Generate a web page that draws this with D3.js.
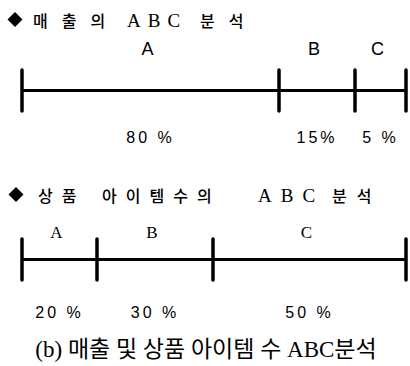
<!DOCTYPE html>
<html>
<head>
<meta charset="utf-8">
<script src="https://cdn.jsdelivr.net/npm/d3@7"></script>
<style>
  body { margin: 0; background: white; }
</style>
</head>
<body>
<script>

var width = 410,
    height = 366;

// 매출의 ABC분석
var salesGroups = ["A", "B", "C"];
var salesShare  = [80, 15, 5];
var salesLabels = ["80 %", "15%", "5 %"];

// 상품 아이템수의 ABC분석
var itemGroups = ["A", "B", "C"];
var itemShare  = [20, 30, 50];
var itemLabels = ["20 %", "30 %", "50 %"];

var svg = d3.select("body")
            .append("svg")
            .attr("width", width)
            .attr("height", height)
            .style("background", "white");

var hangul = "'Noto Sans CJK KR', sans-serif",
    serif  = "'Liberation Serif', 'Noto Sans CJK KR', serif",
    sans   = "'Liberation Sans', 'DejaVu Sans', sans-serif";

// drawing is schematic: segment break points are not proportional to the shares
function drawBar(g, groups, share, labels, breaks, opt) {
  var cum = [0].concat(Array.from(d3.cumsum(share)));
  var x = d3.scaleLinear().domain(cum).range(breaks);

  var segs = groups.map(function (d, i) {
    return { name: d, label: labels[i], x0: cum[i], x1: cum[i + 1] };
  });

  g.append("line")
   .attr("x1", x(cum[0]))
   .attr("x2", x(cum[cum.length - 1]))
   .attr("y1", opt.y).attr("y2", opt.y)
   .style("stroke", "#000")
   .style("stroke-width", 3);

  g.selectAll("line.tick")
   .data(cum)
   .enter()
   .append("line")
   .attr("class", "tick")
   .attr("x1", function (d) { return x(d); })
   .attr("x2", function (d) { return x(d); })
   .attr("y1", opt.y - 20.5)
   .attr("y2", opt.y + 20.5)
   .style("stroke", "#000")
   .style("stroke-width", 3.5)
   .style("stroke-linecap", "round");

  g.selectAll("text.grp")
   .data(segs)
   .enter()
   .append("text")
   .attr("class", "grp")
   .attr("x", function (d) { return (x(d.x0) + x(d.x1)) / 2 - 3; })
   .attr("y", opt.y + opt.grpDy)
   .attr("text-anchor", "middle")
   .style("font-family", opt.groupFont)
   .style("font-size", opt.groupSize + "px")
   .text(function (d) { return d.name; });

  g.selectAll("text.pct")
   .data(segs)
   .enter()
   .append("text")
   .attr("class", "pct")
   .attr("x", function (d) { return (x(d.x0) + x(d.x1)) / 2; })
   .attr("y", opt.y + opt.pctDy)
   .attr("text-anchor", "middle")
   .attr("xml:space", "preserve")
   .style("font-family", sans)
   .style("font-size", "16px")
   .style("letter-spacing", "3px")
   .text(function (d) { return d.label; });
}

function drawTitle(y, parts, cx) {
  var sym = d3.symbol().type(d3.symbolSquare).size(112);
  svg.append("path")
     .attr("d", sym())
     .attr("transform", "translate(" + cx + "," + (y - 7.5) + ") rotate(45)")
     .style("fill", "#000");

  var t = svg.append("text")
             .attr("y", y);
  parts.forEach(function (p) {
    t.append("tspan")
     .attr("x", p.x)
     .style("font-family", p.latin ? serif : hangul)
     .style("font-size", (p.latin ? 19 : 16) + "px")
     .style("font-weight", p.latin ? 400 : 500)
     .style("letter-spacing", p.ls + "px")
     .text(p.text);
  });
}

// --- top: sales ---
drawTitle(27, [
  { text: "매출의", x: 33, ls: 14 },
  { text: "ABC", x: 127, ls: 7, latin: true },
  { text: "분석", x: 200, ls: 14 }
], 15);

drawBar(svg.append("g"), salesGroups, salesShare, salesLabels,
        [22, 279, 355, 406],
        { y: 90.5, groupFont: sans, groupSize: 18, grpDy: -35.5, pctDy: 52.8 });

// --- bottom: item count ---
drawTitle(202, [
  { text: "상품", x: 38, ls: 9 },
  { text: "아이템수의", x: 102, ls: 9 },
  { text: "ABC", x: 258, ls: 9, latin: true },
  { text: "분석", x: 332, ls: 10 }
], 16);

drawBar(svg.append("g"), itemGroups, itemShare, itemLabels,
        [22, 97, 213, 406],
        { y: 259.5, groupFont: serif, groupSize: 17, grpDy: -21.5, pctDy: 58.5 });

// caption
svg.append("text")
   .attr("x", 206)
   .attr("y", 357)
   .attr("text-anchor", "middle")
   .style("font-family", serif)
   .style("font-size", "23px")
   .text("(b) 매출 및 상품 아이템 수 ABC분석");

</script>
</body>
</html>
